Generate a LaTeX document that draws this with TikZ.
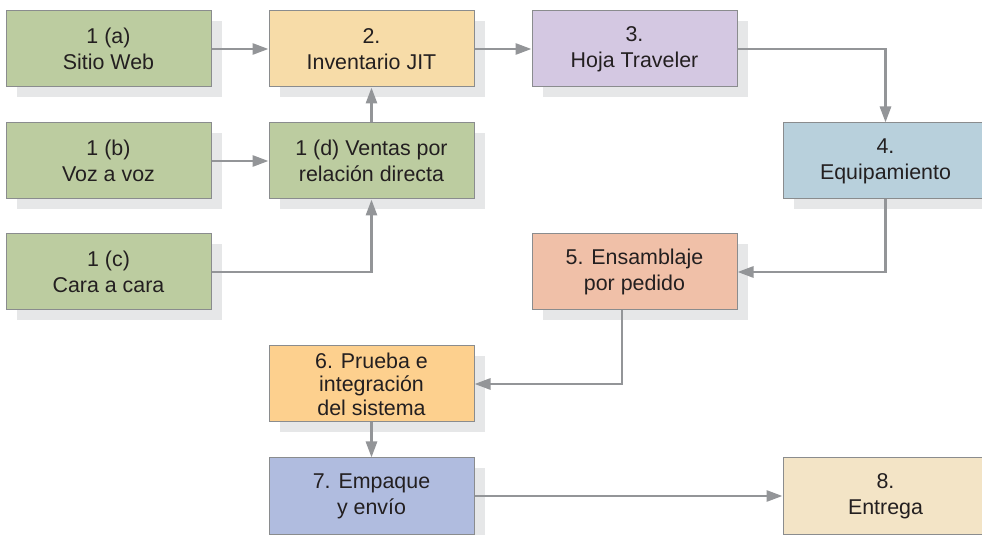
\documentclass[tikz,border=0pt]{standalone}
\usepackage{fontspec}
\setmainfont{Liberation Sans}
\usetikzlibrary{arrows.meta,shadows,calc}

\definecolor{verde}{HTML}{BCCCA0}
\definecolor{amarillo}{HTML}{F7DCA8}
\definecolor{lila}{HTML}{D4C8E2}
\definecolor{celeste}{HTML}{B8D0DC}
\definecolor{salmon}{HTML}{F0C0A8}
\definecolor{naranja}{HTML}{FDD08E}
\definecolor{azul}{HTML}{B0BCDF}
\definecolor{crema}{HTML}{F3E4C6}
\definecolor{sombra}{HTML}{E6E7E8}
\definecolor{borde}{HTML}{8A8C8E}
\definecolor{gris}{HTML}{939598}
\definecolor{texto}{HTML}{231F20}

\begin{document}
\begin{tikzpicture}[x=0.5pt,y=-0.5pt]
		\tikzset{
			caja/.style={draw=borde, line width=0.5pt, minimum width=102.5pt, minimum height=38pt,
				align=center, inner sep=2pt, text=texto, font=\fontsize{10.7}{13}\selectfont,
				drop shadow={shadow xshift=5.25pt, shadow yshift=-5.25pt, fill=sombra, opacity=1}},
			flecha/.style={draw=gris, line width=1.4pt, -{Triangle[length=8pt,width=5.5pt]}}
		}
		\useasboundingbox (0,0) rectangle (982,535);
		% columna izquierda: canales de venta
		\node[caja, fill=verde] (web) at (108.5,49) {1 (a)\\Sitio Web};
		\node[caja, fill=verde] (voz) at (108.5,161) {1 (b)\\Voz a voz};
		\node[caja, fill=verde] (cara) at (108.5,272) {1 (c)\\Cara a cara};
		\node[caja, fill=verde] (directa) at (371.5,161) {1 (d) Ventas por\\relación directa};
		% proceso
		\node[caja, fill=amarillo] (inv) at (371.5,49) {2.\\Inventario JIT};
		\node[caja, fill=lila] (hoja) at (634.5,49) {3.\\Hoja Traveler};
		\node[caja, fill=celeste] (equipo) at (885.5,161) {4.\\Equipamiento};
		\node[caja, fill=salmon] (ensam) at (634.5,272) {5. Ensamblaje\\por pedido};
		\node[caja, fill=naranja, font=\fontsize{10.7}{11.8}\selectfont] (prueba) at (371.5,384) {6. Prueba e\\integración\\del sistema};
		\node[caja, fill=azul] (empaque) at (371.5,496) {7. Empaque\\y envío};
		\node[caja, fill=crema] (entrega) at (885.5,496) {8.\\Entrega};
		
		\draw[flecha] (web) -- (inv);
		\draw[flecha] (voz) -- (directa);
		\draw[flecha] (cara) -| (directa);
		\draw[flecha] (directa) -- (inv);
		\draw[flecha] (inv) -- (hoja);
		\draw[flecha] (hoja) -| (equipo);
		\draw[flecha] (equipo) |- (ensam);
		\draw[flecha] ([xshift=-6.25pt]ensam.south) |- (prueba);
		\draw[flecha] (prueba) -- (empaque);
		\draw[flecha] (empaque) -- (entrega);
		
\end{tikzpicture}
\end{document}
